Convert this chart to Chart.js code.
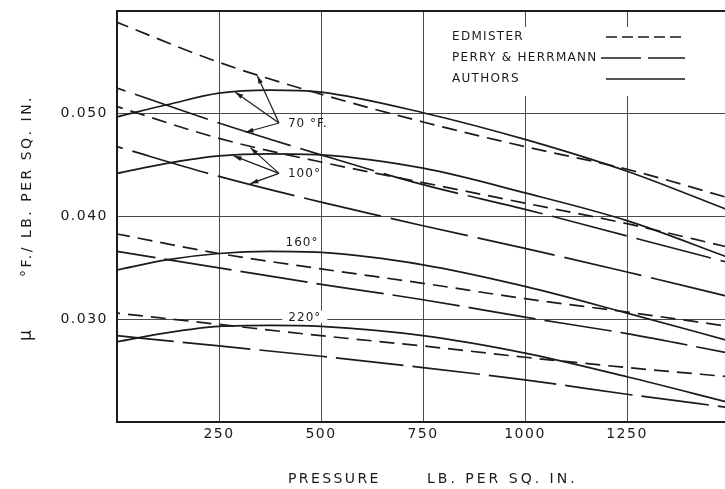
<!DOCTYPE html>
<html>
<head>
<meta charset="utf-8">
<script src="https://cdn.jsdelivr.net/npm/chart.js@4"></script>
<style>
  html, body { margin: 0; padding: 0; background: #fff; overflow: hidden; }
  #wrap { position: absolute; left: 0; top: 0; width: 740px; height: 489px; }
</style>
</head>
<body>
<div id="wrap"><canvas id="chart" width="740" height="489"></canvas></div>
<script>
// Pressure, lb. per sq. in.
const pressure = [0, 250, 500, 750, 1000, 1250, 1500];
const pressureFine = [0, 125, 250, 375, 500, 750, 1000, 1250, 1500];

// Joule-Thomson coefficient, °F. / lb. per sq. in. — Edmister
const edmister70  = [0.0589, 0.0550, 0.0519, 0.0492, 0.0468, 0.0446, 0.0418];
const edmister100 = [0.0507, 0.0476, 0.0453, 0.0433, 0.0413, 0.0393, 0.0370];
const edmister160 = [0.0383, 0.0364, 0.0349, 0.0335, 0.0320, 0.0307, 0.0293];
const edmister220 = [0.0306, 0.0295, 0.0284, 0.0274, 0.0263, 0.0253, 0.0244];

// Perry & Herrmann
const perry70  = [0.0525, 0.0491, 0.0460, 0.0431, 0.0407, 0.0381, 0.0355];
const perry100 = [0.0468, 0.0439, 0.0414, 0.0391, 0.0369, 0.0346, 0.0322];
const perry160 = [0.0366, 0.0350, 0.0334, 0.0319, 0.0302, 0.0286, 0.0267];
const perry220 = [0.0284, 0.0274, 0.0264, 0.0253, 0.0241, 0.0227, 0.0214];

// Authors (on the finer pressure grid)
const authors70  = [0.0497, 0.0509, 0.0520, 0.0523, 0.0521, 0.0501, 0.0475, 0.0444, 0.0406];
const authors100 = [0.0442, 0.0452, 0.0459, 0.0461, 0.0460, 0.0447, 0.0423, 0.0396, 0.0360];
const authors160 = [0.0348, 0.0358, 0.0364, 0.0366, 0.0365, 0.0353, 0.0332, 0.0306, 0.0279];
const authors220 = [0.0278, 0.0287, 0.0293, 0.0294, 0.0293, 0.0284, 0.0267, 0.0244, 0.0219];

// Axis tick labels
const xTickLabels = [250, 500, 750, 1000, 1250];
const yTickLabels = [0.030, 0.040, 0.050];

// Temperature callouts: arrows from a common vertex to the three curves
const arrowCallouts = [
  { text: '70 °F.', vertex: [397, 0.0491], tips: [[290, 0.0521], [344, 0.0537], [315, 0.0482]] },
  { text: '100°',   vertex: [397, 0.0442], tips: [[286, 0.0459], [327, 0.0467], [327, 0.0432]] }
];
const plainCallouts = [
  { text: '160°', at: [413, 0.03744], knockout: false },
  { text: '220°', at: [420, 0.03015], knockout: true }
];

const INK = '#1b1b1b';
const GRID = '#4a4a4a';
const FONT = "'DejaVu Sans', 'Liberation Sans', sans-serif";

const EDMISTER_DASH = [15, 8];

function series(label, xs, ys, dash, offset) {
  return {
    label,
    data: xs.map((x, i) => ({ x, y: ys[i] })),
    borderColor: INK,
    borderWidth: 1.7,
    borderDash: dash,
    borderDashOffset: offset || 0,
    pointRadius: 0,
    pointHoverRadius: 0,
    cubicInterpolationMode: 'monotone',
    fill: false
  };
}

const datasets = [
  series('Edmister 70', pressure, edmister70, EDMISTER_DASH, 3),
  series('Edmister 100', pressure, edmister100, EDMISTER_DASH, 9),
  series('Edmister 160', pressure, edmister160, EDMISTER_DASH, 2),
  series('Edmister 220', pressure, edmister220, EDMISTER_DASH, 12),
  series('Perry & Herrmann 70', pressure, perry70, [77, 10], 68),
  series('Perry & Herrmann 100', pressure, perry100, [79, 10], 73),
  series('Perry & Herrmann 160', pressure, perry160, [68, 9], 29),
  series('Perry & Herrmann 220', pressure, perry220, [68, 9], 11),
  series('Authors 70', pressureFine, authors70, []),
  series('Authors 100', pressureFine, authors100, []),
  series('Authors 160', pressureFine, authors160, []),
  series('Authors 220', pressureFine, authors220, [])
];

// White page, letter spacing for the tick lettering
const pagePlugin = {
  id: 'page',
  beforeDraw(chart) {
    const ctx = chart.ctx;
    ctx.save();
    ctx.fillStyle = '#fff';
    ctx.fillRect(0, 0, chart.width, chart.height);
    ctx.restore();
    ctx.letterSpacing = '1.5px';
  }
};

// Blank out the grid behind the key and behind the 220° label
const maskPlugin = {
  id: 'mask',
  beforeDatasetsDraw(chart) {
    const { ctx, chartArea, scales } = chart;
    ctx.save();
    ctx.fillStyle = '#fff';
    ctx.fillRect(440, 27, chartArea.right - 440 + 5, 69);
    ctx.font = '12px ' + FONT;
    ctx.letterSpacing = '1px';
    plainCallouts.filter(c => c.knockout).forEach(c => {
      const x = scales.x.getPixelForValue(c.at[0]);
      const y = scales.y.getPixelForValue(c.at[1]);
      const w = ctx.measureText(c.text).width;
      ctx.fillRect(x - 6, y - 7, w + 12, 12);
    });
    ctx.restore();
  }
};

function arrowHead(ctx, fx, fy, tx, ty) {
  const a = Math.atan2(ty - fy, tx - fx);
  const len = 8, half = 2.4;
  ctx.beginPath();
  ctx.moveTo(tx, ty);
  ctx.lineTo(tx - len * Math.cos(a) + half * Math.sin(a), ty - len * Math.sin(a) - half * Math.cos(a));
  ctx.lineTo(tx - len * Math.cos(a) - half * Math.sin(a), ty - len * Math.sin(a) + half * Math.cos(a));
  ctx.closePath();
  ctx.fill();
}

const calloutPlugin = {
  id: 'callouts',
  afterDatasetsDraw(chart) {
    const { ctx, scales } = chart;
    const px = v => scales.x.getPixelForValue(v);
    const py = v => scales.y.getPixelForValue(v);
    ctx.save();
    ctx.strokeStyle = INK;
    ctx.fillStyle = INK;
    ctx.lineWidth = 1.2;
    ctx.setLineDash([]);
    ctx.font = '12px ' + FONT;
    ctx.letterSpacing = '1px';
    ctx.textBaseline = 'middle';
    ctx.textAlign = 'left';

    arrowCallouts.forEach(c => {
      const vx = px(c.vertex[0]), vy = py(c.vertex[1]);
      c.tips.forEach(t => {
        const tx = px(t[0]), ty = py(t[1]);
        ctx.beginPath();
        ctx.moveTo(vx, vy);
        ctx.lineTo(tx, ty);
        ctx.stroke();
        arrowHead(ctx, vx, vy, tx, ty);
      });
      ctx.fillText(c.text, vx + 9, vy + 1);
    });

    plainCallouts.forEach(c => {
      ctx.fillText(c.text, px(c.at[0]), py(c.at[1]));
    });

    // Key
    const rows = [
      { text: 'EDMISTER', dash: [11, 5], y: 37, x0: 606 },
      { text: 'PERRY & HERRMANN', dash: [40, 7], y: 58, x0: 601 },
      { text: 'AUTHORS', dash: [], y: 79, x0: 606 }
    ];
    ctx.font = '12px ' + FONT;
    ctx.letterSpacing = '1.3px';
    rows.forEach(r => {
      ctx.fillText(r.text, 452, r.y);
      ctx.beginPath();
      ctx.setLineDash(r.dash);
      ctx.lineWidth = 1.5;
      ctx.moveTo(r.x0, r.y);
      ctx.lineTo(685, r.y);
      ctx.stroke();
    });
    ctx.restore();
  }
};

// Axis titles, hand-lettered with wide spacing
const titlePlugin = {
  id: 'axisTitles',
  afterDraw(chart) {
    const { ctx, chartArea } = chart;
    ctx.save();
    ctx.fillStyle = INK;
    ctx.font = '14px ' + FONT;
    ctx.textBaseline = 'middle';
    ctx.textAlign = 'left';

    // x title
    const ty = chartArea.bottom + 57;
    ctx.letterSpacing = '2.4px';
    ctx.fillText('PRESSURE', chartArea.left + 171, ty);
    ctx.letterSpacing = '3px';
    ctx.fillText('LB. PER SQ. IN.', chartArea.left + 310, ty);

    // y title, reading upward
    ctx.letterSpacing = '2.5px';
    ctx.translate(27, 0);
    ctx.rotate(-Math.PI / 2);
    ctx.fillText('°F./ LB. PER SQ. IN.', -277, 0);
    ctx.font = '17px ' + FONT;
    ctx.fillText('μ', -341, 0);
    ctx.restore();
  }
};

const near = (a, b) => Math.abs(a - b) < 1e-6;

new Chart(document.getElementById('chart'), {
  type: 'line',
  data: { datasets },
  plugins: [pagePlugin, maskPlugin, calloutPlugin, titlePlugin],
  options: {
    responsive: false,
    animation: false,
    events: [],
    layout: { padding: { top: 11, right: 11, bottom: 0, left: 0 } },
    plugins: { legend: { display: false }, tooltip: { enabled: false } },
    scales: {
      x: {
        type: 'linear',
        min: 0,
        max: 1500,
        afterFit(s) { s.height = 67; s.paddingLeft = 0; s.paddingRight = 0; },
        ticks: {
          stepSize: 250,
          autoSkip: false,
          maxRotation: 0,
          padding: 4,
          color: INK,
          font: { family: FONT, size: 14 },
          callback: v => xTickLabels.some(t => near(t, v)) ? String(v) : ''
        },
        grid: {
          drawTicks: false,
          color: GRID,
          lineWidth: 1
        },
        border: { display: true, color: INK, width: 2 }
      },
      y: {
        type: 'linear',
        min: 0.020,
        max: 0.060,
        afterFit(s) { s.width = 117; s.paddingTop = 0; s.paddingBottom = 0; },
        ticks: {
          stepSize: 0.010,
          padding: 9,
          color: INK,
          font: { family: FONT, size: 14 },
          callback: v => yTickLabels.some(t => near(t, v)) ? v.toFixed(3) : ''
        },
        grid: {
          drawTicks: false,
          color: c => (c.tick && near(c.tick.value, 0.060)) ? INK : GRID,
          lineWidth: c => (c.tick && near(c.tick.value, 0.060)) ? 2 : 1
        },
        border: { display: true, color: INK, width: 2 }
      }
    }
  }
});
</script>
</body>
</html>
